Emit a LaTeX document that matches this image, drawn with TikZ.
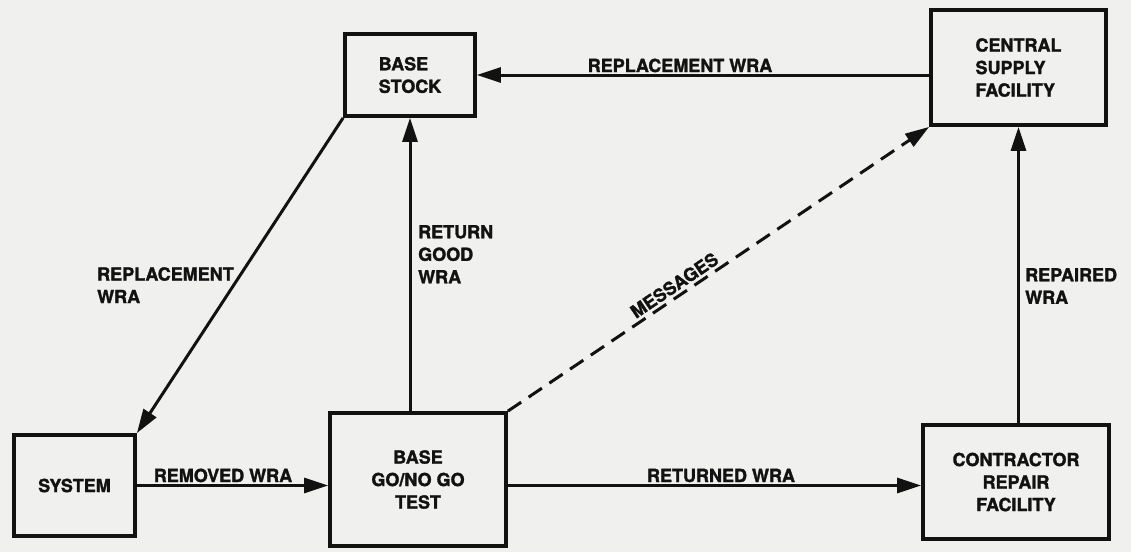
\documentclass[tikz,border=0pt]{standalone}
\usepackage{fontspec}
\setmainfont{TeX Gyre Heros}[BoldFeatures={FakeBold=1.6}]
\usetikzlibrary{arrows.meta}
\definecolor{paper}{RGB}{240,240,238}
\definecolor{ink}{RGB}{18,18,18}
\begin{document}
\begin{tikzpicture}[x=1pt,y=-1pt,
  every node/.style={font=\bfseries\fontsize{18}{22.5}\selectfont, text=ink},
  blk/.style={draw=ink, line width=3.8pt, inner sep=0pt},
  lbl/.style={inner sep=0pt, align=left},
  conn/.style={draw=ink, line width=3pt, -{Triangle[length=24pt,width=15pt]}},
  dconn/.style={conn, dash pattern=on 16pt off 9pt}]
\fill[paper] (0,0) rectangle (1131,552);
\useasboundingbox (0,0) rectangle (1131,552);

\node[blk, minimum width=130pt, minimum height=82pt, align=left] (BS) at (410,75) {BASE\\STOCK};
\node[blk, minimum width=175pt, minimum height=115pt, align=left] (CSF) at (1018.5,67.5) {CENTRAL\\SUPPLY\\FACILITY};
\node[blk, minimum width=121pt, minimum height=101pt] (SYS) at (74.5,485.5) {SYSTEM};
\node[blk, minimum width=176pt, minimum height=133pt, align=center] (BG) at (418,479.5) {BASE\\GO/NO GO\\TEST};
\node[blk, minimum width=186pt, minimum height=114pt, align=center] (CR) at (1016,482) {CONTRACTOR\\REPAIR\\FACILITY};

% connectors
\draw[conn] (BS.east -| CSF.west) -- (BS.east);
\draw[conn] (BS.south west) -- (SYS.north east);
\draw[conn] (BS.south |- BG.north) -- (BS.south);
\draw[conn] (SYS.east) -- (SYS.east -| BG.west);
\draw[conn] (BG.east |- SYS.east) -- (CR.west |- SYS.east);
\draw[conn] (CSF.south |- CR.north) -- (CSF.south);
\draw[dconn] (BG.north east) -- node[pos=0.41, sloped, above=3pt, inner sep=0pt] (msg) {MESSAGES} (CSF.south west);

% labels
\node[lbl, anchor=base] (l1) at (680,72) {REPLACEMENT WRA};
\node[lbl, anchor=north west] (l2) at (97,267) {REPLACEMENT\\WRA};
\node[lbl, anchor=north west] (l3) at (418,225) {RETURN\\GOOD\\WRA};
\node[lbl, anchor=base] (l4) at (223,482) {REMOVED WRA};
\node[lbl, anchor=base] (l5) at (721,482) {RETURNED WRA};
\node[lbl, anchor=north west] (l6) at (1025,268) {REPAIRED\\WRA};
\end{tikzpicture}
\end{document}
